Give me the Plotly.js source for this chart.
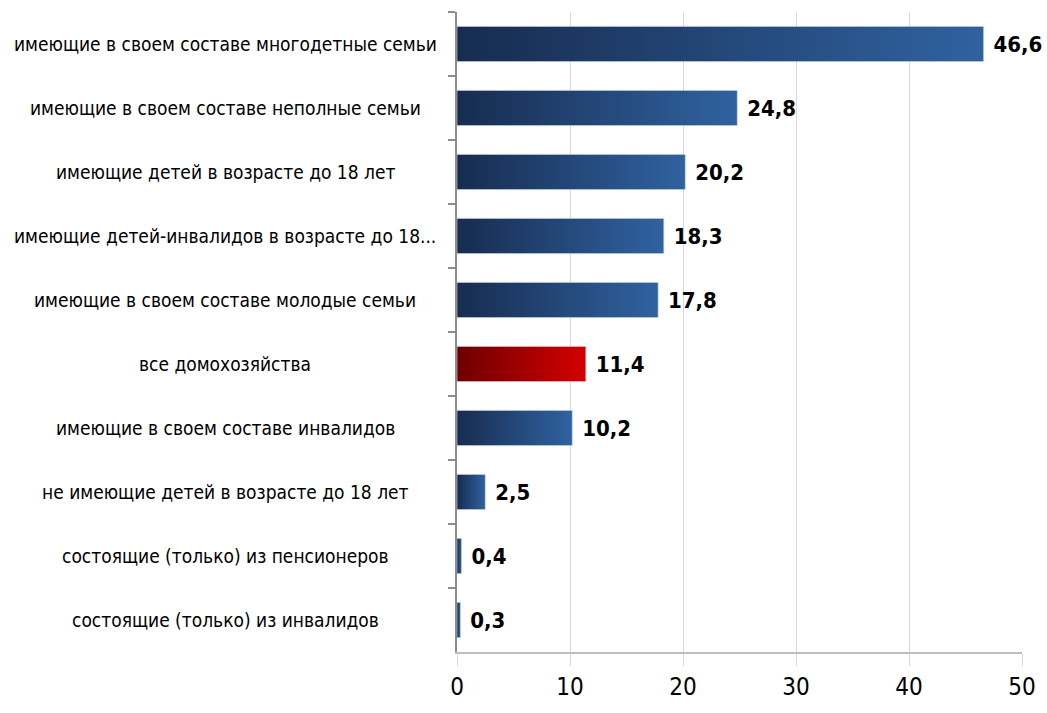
<!DOCTYPE html>
<html><head><meta charset="utf-8">
<script src="https://cdn.plot.ly/plotly-3.0.1.min.js"></script>
<style>html,body{margin:0;padding:0;background:#fff}#chart{width:1047px;height:713px}</style>
</head><body><div id="chart"></div>
<script>
const categories = [
  "имеющие в своем составе многодетные семьи",
  "имеющие в своем составе неполные семьи",
  "имеющие детей в возрасте до 18 лет",
  "имеющие детей-инвалидов в возрасте до 18...",
  "имеющие в своем составе молодые семьи",
  "все домохозяйства",
  "имеющие в своем составе инвалидов",
  "не имеющие детей в возрасте до 18 лет",
  "состоящие (только) из пенсионеров",
  "состоящие (только) из инвалидов"
];
const values = [46.6, 24.8, 20.2, 18.3, 17.8, 11.4, 10.2, 2.5, 0.4, 0.3];
const highlight = "все домохозяйства";
const xTicks = [0, 10, 20, 30, 40, 50];

const FONT = "'DejaVu Sans Condensed', 'Liberation Sans Narrow', sans-serif";
const colors = categories.map(c => c === highlight ? "#b00000" : "#2a4f82");

const trace = {
  type: "bar", orientation: "h",
  y: categories, x: values,
  marker: {color: colors, line: {color: "rgba(200,210,225,0.6)", width: 1}},
  text: values.map(v => "\u00a0" + v.toFixed(1).replace(".", ",")),
  textposition: "outside",
  textfont: {family: FONT, size: 22, color: "#000", weight: "bold"},
  cliponaxis: false,
  hoverinfo: "none"
};

const annotations = categories.map(c => ({
  xref: "paper", yref: "y", x: -0.41, y: c, text: c,
  showarrow: false, xanchor: "center", yanchor: "middle",
  font: {family: FONT, size: 19, color: "#000"}
}));

const layout = {
  width: 1047, height: 713,
  margin: {l: 457, r: 25, t: 12, b: 61},
  paper_bgcolor: "#fff", plot_bgcolor: "#fff",
  bargap: 0.45,
  showlegend: false,
  separators: ", ",
  xaxis: {
    range: [0, 50], tickvals: xTicks, ticktext: xTicks.map(String),
    showgrid: true, gridcolor: "#d9d9d9", gridwidth: 1,
    zeroline: false, showline: true, linecolor: "#bfbfbf", linewidth: 2,
    ticks: "outside", ticklen: 12, tickcolor: "#d9d9d9", tickwidth: 1,
    tickfont: {family: FONT, size: 24, color: "#000"}
  },
  yaxis: {
    autorange: "reversed", type: "category",
    showticklabels: false, showgrid: false, zeroline: false,
    showline: true, linecolor: "#8c8c8c", linewidth: 2,
    ticks: "outside", tickson: "boundaries", ticklen: 7, tickcolor: "#8c8c8c", tickwidth: 2
  },
  annotations: annotations
};

function applyGradients(gd) {
  const svg = gd.querySelector("svg.main-svg");
  if (!svg) return;
  let defs = svg.querySelector("defs");
  const ns = "http://www.w3.org/2000/svg";
  const mk = (id, c1, c2) => {
    if (svg.querySelector("#" + id)) return;
    const g = document.createElementNS(ns, "linearGradient");
    g.setAttribute("id", id); g.setAttribute("x1", "0"); g.setAttribute("x2", "1");
    g.setAttribute("y1", "0"); g.setAttribute("y2", "0");
    [[0, c1], [1, c2]].forEach(([o, c]) => {
      const s = document.createElementNS(ns, "stop");
      s.setAttribute("offset", o); s.setAttribute("stop-color", c);
      g.appendChild(s);
    });
    defs.appendChild(g);
  };
  mk("gBlue", "#172c50", "#3062a0");
  mk("gRed", "#6e0000", "#d40000");
  gd.querySelectorAll(".barlayer .point path").forEach((p, i) => {
    p.style.fill = categories[i] === highlight ? "url(#gRed)" : "url(#gBlue)";
  });
}

Plotly.newPlot("chart", [trace], layout, {displayModeBar: false, staticPlot: true}).then(gd => {
  applyGradients(gd);
  gd.on("plotly_afterplot", () => applyGradients(gd));
});
</script></body></html>
